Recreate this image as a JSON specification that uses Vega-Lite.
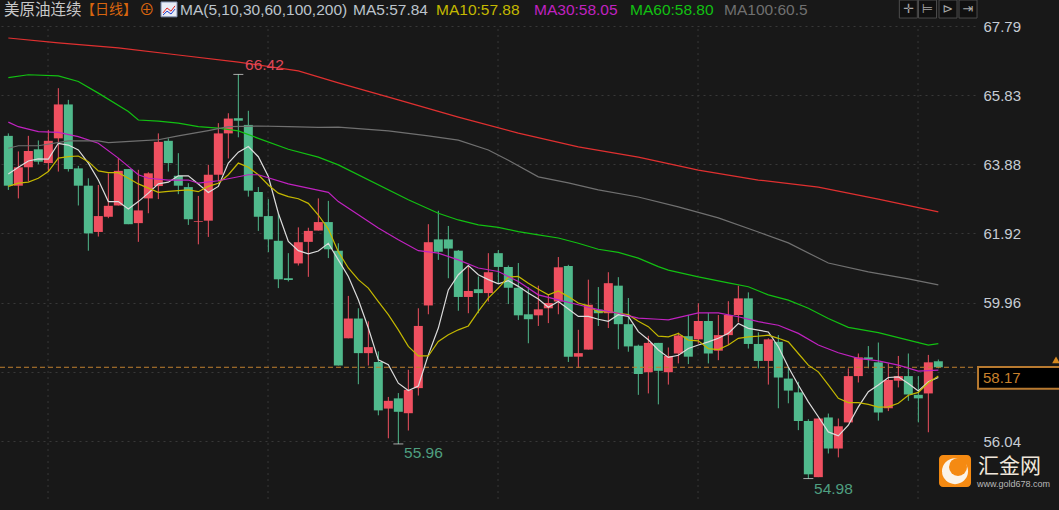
{
  "$schema": "https://vega.github.io/schema/vega-lite/v6.json",
  "description": "美原油连续 daily candlesticks with moving averages",
  "autosize": "none",
  "padding": {"left": 0, "top": 0, "right": 84, "bottom": 0},
  "width": 975,
  "height": 510,
  "background": "#181818",
  "config": {"view": {"stroke": null}},
  "datasets": {
    "candles": [
      {"d":0,"o":64.68,"h":64.75,"l":63.15,"c":63.27},{"d":1,"o":63.27,"h":64.24,"l":62.91,"c":63.79},{"d":2,"o":63.79,"h":64.68,"l":63.39,"c":64.25},{"d":3,"o":64.30,"h":64.55,"l":63.88,"c":63.95},
      {"d":4,"o":63.91,"h":64.85,"l":63.67,"c":64.54},{"d":5,"o":64.61,"h":66.03,"l":63.67,"c":65.57},{"d":6,"o":65.57,"h":65.70,"l":63.67,"c":63.74},{"d":7,"o":63.76,"h":63.83,"l":62.71,"c":63.27},
      {"d":8,"o":63.27,"h":63.48,"l":61.43,"c":61.92},{"d":9,"o":61.96,"h":63.29,"l":61.83,"c":62.41},{"d":10,"o":62.39,"h":63.62,"l":62.35,"c":62.70},{"d":11,"o":62.71,"h":64.05,"l":62.71,"c":63.69},
      {"d":12,"o":63.74,"h":63.74,"l":62.18,"c":62.18},{"d":13,"o":62.21,"h":63.72,"l":61.68,"c":62.57},{"d":14,"o":62.91,"h":63.65,"l":62.49,"c":63.62},{"d":15,"o":63.26,"h":64.75,"l":62.89,"c":64.51},
      {"d":16,"o":64.54,"h":64.61,"l":63.67,"c":63.91},{"d":17,"o":63.55,"h":64.19,"l":63.03,"c":63.27},{"d":18,"o":63.23,"h":63.34,"l":62.16,"c":62.32},{"d":19,"o":62.25,"h":62.98,"l":61.61,"c":62.27},
      {"d":20,"o":62.28,"h":63.86,"l":61.82,"c":63.58},{"d":21,"o":63.58,"h":65.04,"l":63.39,"c":64.75},{"d":22,"o":64.75,"h":65.32,"l":64.04,"c":65.17},{"d":23,"o":65.18,"h":66.42,"l":64.64,"c":65.11},
      {"d":24,"o":64.99,"h":65.39,"l":62.96,"c":63.13},{"d":25,"o":63.09,"h":63.23,"l":61.99,"c":62.39},{"d":26,"o":62.41,"h":62.89,"l":61.39,"c":61.75},{"d":27,"o":61.71,"h":62.49,"l":60.37,"c":60.62},
      {"d":28,"o":60.65,"h":61.36,"l":60.56,"c":60.60},{"d":29,"o":61.07,"h":62.09,"l":61.01,"c":61.67},{"d":30,"o":61.68,"h":62.08,"l":60.69,"c":61.99},{"d":31,"o":62.00,"h":62.91,"l":62.00,"c":62.24},
      {"d":32,"o":62.24,"h":62.84,"l":61.22,"c":61.47},{"d":33,"o":61.43,"h":61.64,"l":58.18,"c":58.18},{"d":34,"o":58.95,"h":60.15,"l":58.95,"c":59.51},{"d":35,"o":59.51,"h":59.80,"l":57.65,"c":58.53},
      {"d":36,"o":58.53,"h":59.43,"l":58.18,"c":58.70},{"d":37,"o":58.28,"h":58.58,"l":56.77,"c":56.91},{"d":38,"o":56.96,"h":57.29,"l":56.12,"c":57.18},{"d":39,"o":57.25,"h":57.40,"l":55.96,"c":56.87},
      {"d":40,"o":56.83,"h":58.06,"l":56.34,"c":57.49},{"d":41,"o":57.54,"h":59.80,"l":57.33,"c":59.30},{"d":42,"o":59.88,"h":62.18,"l":59.63,"c":61.67},{"d":43,"o":61.75,"h":62.56,"l":61.17,"c":61.40},
      {"d":44,"o":61.75,"h":62.13,"l":60.65,"c":61.49},{"d":45,"o":61.43,"h":61.45,"l":59.73,"c":60.12},{"d":46,"o":60.12,"h":61.01,"l":59.66,"c":60.29},{"d":47,"o":60.34,"h":60.70,"l":59.66,"c":60.23},
      {"d":48,"o":60.23,"h":61.36,"l":59.99,"c":60.82},{"d":49,"o":61.36,"h":61.45,"l":60.49,"c":60.97},{"d":50,"o":60.97,"h":61.01,"l":59.92,"c":60.38},{"d":51,"o":60.38,"h":61.08,"l":59.47,"c":59.60},
      {"d":52,"o":59.63,"h":60.40,"l":58.81,"c":59.49},{"d":53,"o":59.60,"h":60.44,"l":59.30,"c":59.77},{"d":54,"o":59.80,"h":60.18,"l":59.38,"c":59.95},{"d":55,"o":59.99,"h":61.25,"l":59.63,"c":60.96},
      {"d":56,"o":61.00,"h":61.03,"l":58.28,"c":58.43},{"d":57,"o":58.43,"h":59.19,"l":58.11,"c":58.53},{"d":58,"o":58.63,"h":60.61,"l":58.63,"c":59.90},{"d":59,"o":59.76,"h":60.40,"l":59.30,"c":59.66},
      {"d":60,"o":59.66,"h":60.82,"l":59.24,"c":60.51},{"d":61,"o":60.44,"h":60.68,"l":58.64,"c":59.35},{"d":62,"o":59.35,"h":60.09,"l":58.57,"c":58.72},{"d":63,"o":58.74,"h":58.77,"l":57.35,"c":57.94},
      {"d":64,"o":57.99,"h":59.02,"l":57.39,"c":58.82},{"d":65,"o":58.82,"h":58.82,"l":57.08,"c":58.03},{"d":66,"o":57.99,"h":58.69,"l":57.64,"c":58.45},{"d":67,"o":58.52,"h":59.11,"l":58.24,"c":59.03},
      {"d":68,"o":59.01,"h":59.61,"l":58.22,"c":58.43},{"d":69,"o":58.92,"h":59.94,"l":58.80,"c":59.44},{"d":70,"o":59.44,"h":59.67,"l":58.24,"c":58.52},{"d":71,"o":58.60,"h":59.61,"l":58.33,"c":59.04},
      {"d":72,"o":59.04,"h":60.00,"l":58.76,"c":59.61},{"d":73,"o":59.61,"h":60.44,"l":59.40,"c":60.08},{"d":74,"o":60.08,"h":60.25,"l":58.66,"c":58.79},{"d":75,"o":58.79,"h":59.12,"l":58.10,"c":58.31},
      {"d":76,"o":58.31,"h":58.95,"l":57.64,"c":58.92},{"d":77,"o":58.85,"h":59.04,"l":56.97,"c":57.84},{"d":78,"o":57.81,"h":58.14,"l":57.11,"c":57.47},{"d":79,"o":57.42,"h":57.72,"l":56.35,"c":56.61},
      {"d":80,"o":56.61,"h":56.66,"l":54.98,"c":55.10},{"d":81,"o":55.02,"h":56.68,"l":55.02,"c":56.68},{"d":82,"o":56.71,"h":56.82,"l":55.69,"c":55.83},{"d":83,"o":55.83,"h":56.68,"l":55.58,"c":56.46},
      {"d":84,"o":56.57,"h":58.10,"l":56.57,"c":57.88},{"d":85,"o":57.88,"h":58.52,"l":57.70,"c":58.41},{"d":86,"o":58.41,"h":58.73,"l":58.10,"c":58.35},{"d":87,"o":58.27,"h":58.83,"l":56.62,"c":56.85},
      {"d":88,"o":56.97,"h":58.24,"l":56.89,"c":57.77},{"d":89,"o":57.75,"h":58.45,"l":57.56,"c":57.88},{"d":90,"o":57.88,"h":58.52,"l":57.18,"c":57.36},{"d":91,"o":57.35,"h":57.88,"l":56.57,"c":57.25},
      {"d":92,"o":57.39,"h":58.48,"l":56.29,"c":58.27},{"d":93,"o":58.30,"h":58.35,"l":58.10,"c":58.13}
    ],
    "ma": [
      {"d":0,"p":63.60,"series":"MA5"},{"d":1,"p":63.79,"series":"MA5"},{"d":2,"p":63.97,"series":"MA5"},{"d":3,"p":64.03,"series":"MA5"},{"d":4,"p":64.02,"series":"MA5"},{"d":5,"p":64.47,"series":"MA5"},{"d":6,"p":64.42,"series":"MA5"},{"d":7,"p":64.28,"series":"MA5"},{"d":8,"p":63.91,"series":"MA5"},{"d":9,"p":63.43,"series":"MA5"},
      {"d":10,"p":62.82,"series":"MA5"},{"d":11,"p":62.82,"series":"MA5"},{"d":12,"p":62.61,"series":"MA5"},{"d":13,"p":62.82,"series":"MA5"},{"d":14,"p":63.06,"series":"MA5"},{"d":15,"p":63.32,"series":"MA5"},{"d":16,"p":63.37,"series":"MA5"},{"d":17,"p":63.55,"series":"MA5"},{"d":18,"p":63.55,"series":"MA5"},{"d":19,"p":63.32,"series":"MA5"},
      {"d":20,"p":63.08,"series":"MA5"},{"d":21,"p":63.25,"series":"MA5"},{"d":22,"p":63.91,"series":"MA5"},{"d":23,"p":64.22,"series":"MA5"},{"d":24,"p":64.38,"series":"MA5"},{"d":25,"p":64.09,"series":"MA5"},{"d":26,"p":63.53,"series":"MA5"},{"d":27,"p":62.49,"series":"MA5"},{"d":28,"p":61.69,"series":"MA5"},{"d":29,"p":61.43,"series":"MA5"},
      {"d":30,"p":61.34,"series":"MA5"},{"d":31,"p":61.42,"series":"MA5"},{"d":32,"p":61.64,"series":"MA5"},{"d":33,"p":61.17,"series":"MA5"},{"d":34,"p":60.70,"series":"MA5"},{"d":35,"p":60.04,"series":"MA5"},{"d":36,"p":59.24,"series":"MA5"},{"d":37,"p":58.34,"series":"MA5"},{"d":38,"p":58.20,"series":"MA5"},{"d":39,"p":57.68,"series":"MA5"},
      {"d":40,"p":57.47,"series":"MA5"},{"d":41,"p":57.60,"series":"MA5"},{"d":42,"p":58.48,"series":"MA5"},{"d":43,"p":59.24,"series":"MA5"},{"d":44,"p":60.32,"series":"MA5"},{"d":45,"p":60.75,"series":"MA5"},{"d":46,"p":61.01,"series":"MA5"},{"d":47,"p":60.75,"series":"MA5"},{"d":48,"p":60.61,"series":"MA5"},{"d":49,"p":60.49,"series":"MA5"},
      {"d":50,"p":60.58,"series":"MA5"},{"d":51,"p":60.42,"series":"MA5"},{"d":52,"p":60.23,"series":"MA5"},{"d":53,"p":60.06,"series":"MA5"},{"d":54,"p":59.83,"series":"MA5"},{"d":55,"p":59.99,"series":"MA5"},{"d":56,"p":59.78,"series":"MA5"},{"d":57,"p":59.57,"series":"MA5"},{"d":58,"p":59.57,"series":"MA5"},{"d":59,"p":59.49,"series":"MA5"},
      {"d":60,"p":59.43,"series":"MA5"},{"d":61,"p":59.62,"series":"MA5"},{"d":62,"p":59.57,"series":"MA5"},{"d":63,"p":59.14,"series":"MA5"},{"d":64,"p":58.91,"series":"MA5"},{"d":65,"p":58.62,"series":"MA5"},{"d":66,"p":58.41,"series":"MA5"},{"d":67,"p":58.47,"series":"MA5"},{"d":68,"p":58.66,"series":"MA5"},{"d":69,"p":58.76,"series":"MA5"},
      {"d":70,"p":58.85,"series":"MA5"},{"d":71,"p":58.95,"series":"MA5"},{"d":72,"p":59.09,"series":"MA5"},{"d":73,"p":59.37,"series":"MA5"},{"d":74,"p":59.23,"series":"MA5"},{"d":75,"p":59.18,"series":"MA5"},{"d":76,"p":59.13,"series":"MA5"},{"d":77,"p":58.71,"series":"MA5"},{"d":78,"p":58.14,"series":"MA5"},{"d":79,"p":57.63,"series":"MA5"},
      {"d":80,"p":57.15,"series":"MA5"},{"d":81,"p":56.73,"series":"MA5"},{"d":82,"p":56.30,"series":"MA5"},{"d":83,"p":56.19,"series":"MA5"},{"d":84,"p":56.49,"series":"MA5"},{"d":85,"p":57.01,"series":"MA5"},{"d":86,"p":57.44,"series":"MA5"},{"d":87,"p":57.63,"series":"MA5"},{"d":88,"p":57.84,"series":"MA5"},{"d":89,"p":57.86,"series":"MA5"},
      {"d":90,"p":57.67,"series":"MA5"},{"d":91,"p":57.46,"series":"MA5"},{"d":92,"p":57.72,"series":"MA5"},{"d":93,"p":57.84,"series":"MA5"},

      {"d":0,"p":63.25,"series":"MA10"},{"d":1,"p":63.34,"series":"MA10"},{"d":2,"p":63.37,"series":"MA10"},{"d":3,"p":63.48,"series":"MA10"},{"d":4,"p":63.67,"series":"MA10"},{"d":5,"p":64.05,"series":"MA10"},{"d":6,"p":64.09,"series":"MA10"},{"d":7,"p":64.11,"series":"MA10"},{"d":8,"p":63.95,"series":"MA10"},{"d":9,"p":63.69,"series":"MA10"},
      {"d":10,"p":63.64,"series":"MA10"},{"d":11,"p":63.64,"series":"MA10"},{"d":12,"p":63.48,"series":"MA10"},{"d":13,"p":63.32,"series":"MA10"},{"d":14,"p":63.20,"series":"MA10"},{"d":15,"p":63.08,"series":"MA10"},{"d":16,"p":63.11,"series":"MA10"},{"d":17,"p":63.13,"series":"MA10"},{"d":18,"p":63.15,"series":"MA10"},{"d":19,"p":63.10,"series":"MA10"},
      {"d":20,"p":63.25,"series":"MA10"},{"d":21,"p":63.34,"series":"MA10"},{"d":22,"p":63.58,"series":"MA10"},{"d":23,"p":63.91,"series":"MA10"},{"d":24,"p":63.79,"series":"MA10"},{"d":25,"p":63.58,"series":"MA10"},{"d":26,"p":63.29,"series":"MA10"},{"d":27,"p":63.06,"series":"MA10"},{"d":28,"p":62.96,"series":"MA10"},{"d":29,"p":62.90,"series":"MA10"},
      {"d":30,"p":62.77,"series":"MA10"},{"d":31,"p":62.44,"series":"MA10"},{"d":32,"p":62.04,"series":"MA10"},{"d":33,"p":61.40,"series":"MA10"},{"d":34,"p":60.94,"series":"MA10"},{"d":35,"p":60.61,"series":"MA10"},{"d":36,"p":60.37,"series":"MA10"},{"d":37,"p":59.99,"series":"MA10"},{"d":38,"p":59.62,"series":"MA10"},{"d":39,"p":59.19,"series":"MA10"},
      {"d":40,"p":58.72,"series":"MA10"},{"d":41,"p":58.45,"series":"MA10"},{"d":42,"p":58.45,"series":"MA10"},{"d":43,"p":58.86,"series":"MA10"},{"d":44,"p":59.05,"series":"MA10"},{"d":45,"p":59.19,"series":"MA10"},{"d":46,"p":59.30,"series":"MA10"},{"d":47,"p":59.71,"series":"MA10"},{"d":48,"p":60.09,"series":"MA10"},{"d":49,"p":60.37,"series":"MA10"},
      {"d":50,"p":60.68,"series":"MA10"},{"d":51,"p":60.70,"series":"MA10"},{"d":52,"p":60.51,"series":"MA10"},{"d":53,"p":60.34,"series":"MA10"},{"d":54,"p":60.18,"series":"MA10"},{"d":55,"p":60.29,"series":"MA10"},{"d":56,"p":60.13,"series":"MA10"},{"d":57,"p":59.95,"series":"MA10"},{"d":58,"p":59.87,"series":"MA10"},{"d":59,"p":59.69,"series":"MA10"},
      {"d":60,"p":59.71,"series":"MA10"},{"d":61,"p":59.66,"series":"MA10"},{"d":62,"p":59.62,"series":"MA10"},{"d":63,"p":59.43,"series":"MA10"},{"d":64,"p":59.28,"series":"MA10"},{"d":65,"p":59.01,"series":"MA10"},{"d":66,"p":58.99,"series":"MA10"},{"d":67,"p":59.09,"series":"MA10"},{"d":68,"p":58.90,"series":"MA10"},{"d":69,"p":58.88,"series":"MA10"},
      {"d":70,"p":58.66,"series":"MA10"},{"d":71,"p":58.63,"series":"MA10"},{"d":72,"p":58.76,"series":"MA10"},{"d":73,"p":58.95,"series":"MA10"},{"d":74,"p":58.99,"series":"MA10"},{"d":75,"p":59.01,"series":"MA10"},{"d":76,"p":59.04,"series":"MA10"},{"d":77,"p":58.95,"series":"MA10"},{"d":78,"p":58.85,"series":"MA10"},{"d":79,"p":58.52,"series":"MA10"},
      {"d":80,"p":58.19,"series":"MA10"},{"d":81,"p":58.00,"series":"MA10"},{"d":82,"p":57.63,"series":"MA10"},{"d":83,"p":57.25,"series":"MA10"},{"d":84,"p":57.13,"series":"MA10"},{"d":85,"p":57.13,"series":"MA10"},{"d":86,"p":57.08,"series":"MA10"},{"d":87,"p":57.00,"series":"MA10"},{"d":88,"p":57.01,"series":"MA10"},{"d":89,"p":57.11,"series":"MA10"},
      {"d":90,"p":57.34,"series":"MA10"},{"d":91,"p":57.42,"series":"MA10"},{"d":92,"p":57.69,"series":"MA10"},{"d":93,"p":57.88,"series":"MA10"},

      {"d":0,"p":65.07,"series":"MA30"},{"d":1,"p":64.94,"series":"MA30"},{"d":3,"p":64.80,"series":"MA30"},{"d":5,"p":64.78,"series":"MA30"},{"d":7,"p":64.66,"series":"MA30"},{"d":9,"p":64.47,"series":"MA30"},{"d":11,"p":64.05,"series":"MA30"},{"d":13,"p":63.58,"series":"MA30"},{"d":14,"p":63.48,"series":"MA30"},{"d":16,"p":63.43,"series":"MA30"},
      {"d":18,"p":63.43,"series":"MA30"},{"d":19,"p":63.34,"series":"MA30"},{"d":21,"p":63.41,"series":"MA30"},{"d":24,"p":63.58,"series":"MA30"},{"d":25,"p":63.58,"series":"MA30"},{"d":28,"p":63.32,"series":"MA30"},{"d":30,"p":63.20,"series":"MA30"},{"d":32,"p":63.08,"series":"MA30"},{"d":33,"p":62.82,"series":"MA30"},{"d":35,"p":62.45,"series":"MA30"},
      {"d":37,"p":62.07,"series":"MA30"},{"d":39,"p":61.74,"series":"MA30"},{"d":41,"p":61.43,"series":"MA30"},{"d":43,"p":61.36,"series":"MA30"},{"d":45,"p":61.17,"series":"MA30"},{"d":47,"p":60.94,"series":"MA30"},{"d":49,"p":60.84,"series":"MA30"},{"d":51,"p":60.56,"series":"MA30"},{"d":53,"p":60.18,"series":"MA30"},{"d":55,"p":60.04,"series":"MA30"},
      {"d":57,"p":59.90,"series":"MA30"},{"d":59,"p":59.76,"series":"MA30"},{"d":61,"p":59.66,"series":"MA30"},{"d":63,"p":59.52,"series":"MA30"},{"d":65,"p":59.49,"series":"MA30"},{"d":66,"p":59.47,"series":"MA30"},{"d":69,"p":59.67,"series":"MA30"},{"d":71,"p":59.67,"series":"MA30"},{"d":73,"p":59.56,"series":"MA30"},{"d":75,"p":59.42,"series":"MA30"},
      {"d":77,"p":59.32,"series":"MA30"},{"d":79,"p":59.09,"series":"MA30"},{"d":81,"p":58.76,"series":"MA30"},{"d":83,"p":58.54,"series":"MA30"},{"d":85,"p":58.38,"series":"MA30"},{"d":87,"p":58.31,"series":"MA30"},{"d":89,"p":58.19,"series":"MA30"},{"d":91,"p":58.02,"series":"MA30"},{"d":93,"p":58.05,"series":"MA30"},

      {"d":0,"p":66.33,"series":"MA60"},{"d":2,"p":66.41,"series":"MA60"},{"d":5,"p":66.38,"series":"MA60"},{"d":7,"p":66.22,"series":"MA60"},{"d":9,"p":65.89,"series":"MA60"},{"d":12,"p":65.37,"series":"MA60"},{"d":13,"p":65.13,"series":"MA60"},{"d":15,"p":65.10,"series":"MA60"},{"d":17,"p":65.04,"series":"MA60"},{"d":19,"p":64.94,"series":"MA60"},
      {"d":21,"p":64.90,"series":"MA60"},{"d":23,"p":64.82,"series":"MA60"},{"d":25,"p":64.61,"series":"MA60"},{"d":28,"p":64.30,"series":"MA60"},{"d":31,"p":64.08,"series":"MA60"},{"d":33,"p":63.86,"series":"MA60"},{"d":40,"p":62.87,"series":"MA60"},{"d":43,"p":62.49,"series":"MA60"},{"d":45,"p":62.30,"series":"MA60"},{"d":47,"p":62.16,"series":"MA60"},
      {"d":49,"p":62.09,"series":"MA60"},{"d":51,"p":61.97,"series":"MA60"},{"d":53,"p":61.88,"series":"MA60"},{"d":55,"p":61.79,"series":"MA60"},{"d":57,"p":61.64,"series":"MA60"},{"d":59,"p":61.47,"series":"MA60"},{"d":61,"p":61.38,"series":"MA60"},{"d":63,"p":61.22,"series":"MA60"},{"d":65,"p":60.98,"series":"MA60"},{"d":66,"p":60.88,"series":"MA60"},
      {"d":69,"p":60.69,"series":"MA60"},{"d":72,"p":60.52,"series":"MA60"},{"d":74,"p":60.41,"series":"MA60"},{"d":76,"p":60.18,"series":"MA60"},{"d":78,"p":60.03,"series":"MA60"},{"d":80,"p":59.80,"series":"MA60"},{"d":82,"p":59.51,"series":"MA60"},{"d":84,"p":59.26,"series":"MA60"},{"d":87,"p":59.11,"series":"MA60"},{"d":90,"p":58.90,"series":"MA60"},
      {"d":92,"p":58.76,"series":"MA60"},{"d":93,"p":58.80,"series":"MA60"},

      {"d":0,"p":64.33,"series":"MA100"},{"d":1,"p":64.40,"series":"MA100"},{"d":3,"p":64.40,"series":"MA100"},{"d":6,"p":64.54,"series":"MA100"},{"d":9,"p":64.54,"series":"MA100"},{"d":10,"p":64.49,"series":"MA100"},{"d":13,"p":64.54,"series":"MA100"},{"d":15,"p":64.57,"series":"MA100"},{"d":17,"p":64.68,"series":"MA100"},{"d":20,"p":64.83,"series":"MA100"},
      {"d":22,"p":64.94,"series":"MA100"},{"d":25,"p":64.96,"series":"MA100"},{"d":28,"p":64.94,"series":"MA100"},{"d":31,"p":64.92,"series":"MA100"},{"d":33,"p":64.93,"series":"MA100"},{"d":38,"p":64.82,"series":"MA100"},{"d":42,"p":64.68,"series":"MA100"},{"d":45,"p":64.56,"series":"MA100"},{"d":48,"p":64.28,"series":"MA100"},{"d":50,"p":63.99,"series":"MA100"},
      {"d":53,"p":63.52,"series":"MA100"},{"d":56,"p":63.35,"series":"MA100"},{"d":59,"p":63.15,"series":"MA100"},{"d":63,"p":62.95,"series":"MA100"},{"d":67,"p":62.67,"series":"MA100"},{"d":71,"p":62.36,"series":"MA100"},{"d":75,"p":61.96,"series":"MA100"},{"d":78,"p":61.65,"series":"MA100"},{"d":82,"p":61.08,"series":"MA100"},{"d":86,"p":60.83,"series":"MA100"},
      {"d":90,"p":60.63,"series":"MA100"},{"d":93,"p":60.46,"series":"MA100"},

      {"d":0,"p":67.45,"series":"MA200"},{"d":5,"p":67.31,"series":"MA200"},{"d":11,"p":67.17,"series":"MA200"},{"d":17,"p":66.97,"series":"MA200"},{"d":23,"p":66.77,"series":"MA200"},{"d":29,"p":66.52,"series":"MA200"},{"d":33,"p":66.18,"series":"MA200"},{"d":39,"p":65.70,"series":"MA200"},{"d":45,"p":65.21,"series":"MA200"},{"d":51,"p":64.76,"series":"MA200"},
      {"d":57,"p":64.37,"series":"MA200"},{"d":63,"p":64.08,"series":"MA200"},{"d":69,"p":63.71,"series":"MA200"},{"d":75,"p":63.43,"series":"MA200"},{"d":81,"p":63.23,"series":"MA200"},{"d":87,"p":62.89,"series":"MA200"},{"d":93,"p":62.53,"series":"MA200"}
    ]
  },
  "encoding": {
    "x": {"field": "d", "type": "quantitative", "scale": {"domain": [-0.833, 96.667], "nice": false, "zero": false, "padding": 0}, "axis": null},
    "y": {
      "field": "p", "type": "quantitative",
      "scale": {"domain": [54.09, 68.526], "nice": false, "zero": false},
      "axis": {
        "orient": "right", "title": null, "values": [67.79, 65.83, 63.88, 61.92, 59.96, 58.0, 56.04], "format": ".2f",
        "domain": false, "ticks": false, "labelPadding": 8, "labelFont": "Liberation Sans", "labelFontSize": 15, "labelColor": "#c6ccd4",
        "grid": true, "gridColor": "#383838", "gridDash": [2, 4], "gridWidth": 1, "zindex": 0
      }
    },
    "color": {
      "field": "series", "type": "nominal", "legend": null,
      "scale": {
        "domain": ["MA5", "MA10", "MA30", "MA60", "MA100", "MA200", "name", "period", "params", "high", "low", "iconA", "iconB"],
        "range": ["#dcdcdc", "#c4b800", "#c022c0", "#12c012", "#707070", "#e03030", "#c8c8c8", "#d8650f", "#bcc4cc", "#e04858", "#4f9f80", "#e02020", "#2040d0"]
      }
    }
  },
  "layer": [
    {
      "data": {"values": [{"d": 3.97, "p": 54.4, "p2": 67.79}, {"d": 25.97, "p": 54.4, "p2": 67.79}, {"d": 48.97, "p": 54.4, "p2": 67.79}, {"d": 68.97, "p": 54.4, "p2": 67.79}, {"d": 90.97, "p": 54.4, "p2": 67.79}]},
      "mark": {"type": "rule", "strokeDash": [2, 4], "strokeWidth": 1},
      "encoding": {"y2": {"field": "p2"}, "color": {"value": "#383838"}}
    },
    {
      "data": {"name": "candles"},
      "mark": {"type": "rule", "strokeWidth": 1},
      "encoding": {
        "y": {
          "field": "l", "type": "quantitative",
          "scale": {"domain": [54.09, 68.526], "nice": false, "zero": false},
          "axis": {
            "orient": "right", "title": null, "values": [67.79, 65.83, 63.88, 61.92, 59.96, 58.0, 56.04], "format": ".2f",
            "domain": false, "ticks": false, "labelPadding": 8, "labelFont": "Liberation Sans", "labelFontSize": 15, "labelColor": "#c6ccd4",
            "grid": true, "gridColor": "#383838", "gridDash": [2, 4], "gridWidth": 1, "zindex": 0
          }
        },
        "y2": {"field": "h"},
        "color": {"condition": {"test": "datum.c >= datum.o", "value": "#ef5060"}, "value": "#50b98c"}
      }
    },
    {
      "data": {"name": "candles"},
      "mark": {"type": "bar", "orient": "vertical", "size": 9},
      "encoding": {
        "y": {
          "field": "o", "type": "quantitative",
          "scale": {"domain": [54.09, 68.526], "nice": false, "zero": false},
          "axis": {
            "orient": "right", "title": null, "values": [67.79, 65.83, 63.88, 61.92, 59.96, 58.0, 56.04], "format": ".2f",
            "domain": false, "ticks": false, "labelPadding": 8, "labelFont": "Liberation Sans", "labelFontSize": 15, "labelColor": "#c6ccd4",
            "grid": true, "gridColor": "#383838", "gridDash": [2, 4], "gridWidth": 1, "zindex": 0
          }
        },
        "y2": {"field": "c"},
        "color": {"condition": {"test": "datum.c >= datum.o", "value": "#ef5060"}, "value": "#50b98c"}
      }
    },
    {
      "data": {"values": [{"d": -0.833, "d2": 96.667, "p": 58.13}]},
      "mark": {"type": "rule", "strokeDash": [5, 3], "strokeWidth": 1},
      "encoding": {"x2": {"field": "d2"}, "color": {"value": "#c08030"}}
    },
    {
      "data": {"name": "ma"},
      "mark": {"type": "line", "strokeWidth": 1.2, "interpolate": "linear"}
    },
    {
      "data": {"values": [{"d": 23, "p": 66.42}, {"d": 39, "p": 55.96}, {"d": 80, "p": 54.98}]},
      "mark": {"type": "tick", "orient": "horizontal", "size": 10, "thickness": 1},
      "encoding": {"color": {"value": "#e8e8e8"}}
    },
    {
      "data": {"values": [
        {"d": 23.67, "p": 66.69, "label": "66.42", "series": "high"},
        {"d": 39.57, "p": 55.70, "label": "55.96", "series": "low"},
        {"d": 80.57, "p": 54.68, "label": "54.98", "series": "low"},
        {"d": -0.43, "p": 68.243, "label": "美原油连续", "series": "name"},
        {"d": 13.07, "p": 68.243, "label": "⊕", "series": "period"},
        {"d": 17.17, "p": 68.243, "label": "MA(5,10,30,60,100,200)", "series": "params"},
        {"d": 34.47, "p": 68.243, "label": "MA5:57.84", "series": "params"},
        {"d": 42.77, "p": 68.243, "label": "MA10:57.88", "series": "MA10"},
        {"d": 52.57, "p": 68.243, "label": "MA30:58.05", "series": "MA30"},
        {"d": 62.17, "p": 68.243, "label": "MA60:58.80", "series": "MA60"},
        {"d": 71.57, "p": 68.243, "label": "MA100:60.5", "series": "MA100"}
      ]},
      "mark": {"type": "text", "align": "left", "baseline": "middle", "font": "Liberation Sans, Noto Sans CJK SC", "fontSize": 15.5},
      "encoding": {"text": {"field": "label"}}
    },
    {
      "data": {"values": [{"d": 7.27, "p": 68.243, "label": "【日线】", "series": "period"}]},
      "mark": {"type": "text", "align": "left", "baseline": "middle", "font": "Noto Sans CJK SC", "fontSize": 14},
      "encoding": {"text": {"field": "label"}}
    },
    {
      "data": {"values": [{"d": 15.27, "d2": 16.87, "p": 68.05, "p2": 68.47}]},
      "mark": {"type": "rect", "stroke": "#8090b0", "strokeWidth": 1},
      "encoding": {"x2": {"field": "d2"}, "y2": {"field": "p2"}, "color": {"value": "#e8ecf6"}}
    },
    {
      "data": {"values": [
        {"d": 15.47, "p": 68.16, "series": "iconA"}, {"d": 15.87, "p": 68.30, "series": "iconA"}, {"d": 16.27, "p": 68.21, "series": "iconA"}, {"d": 16.67, "p": 68.36, "series": "iconA"},
        {"d": 15.47, "p": 68.10, "series": "iconB"}, {"d": 15.87, "p": 68.21, "series": "iconB"}, {"d": 16.27, "p": 68.13, "series": "iconB"}, {"d": 16.67, "p": 68.27, "series": "iconB"}
      ]},
      "mark": {"type": "line", "strokeWidth": 1}
    },
    {
      "data": {"values": [{"d": 90.0, "p": 68.27}, {"d": 91.92, "p": 68.27}, {"d": 93.97, "p": 68.27}, {"d": 95.97, "p": 68.27}]},
      "mark": {"type": "point", "shape": "square", "size": 324, "filled": true, "opacity": 1, "strokeWidth": 1},
      "encoding": {"color": {"value": "#101010"}, "stroke": {"value": "#4c4c4c"}}
    },
    {
      "data": {"values": [{"d": 90.0, "p": 68.27, "label": "✛"}, {"d": 91.92, "p": 68.27, "label": "⊨"}, {"d": 93.97, "p": 68.27, "label": "⊳"}, {"d": 95.97, "p": 68.27, "label": "⇥"}]},
      "mark": {"type": "text", "align": "center", "baseline": "middle", "font": "DejaVu Sans", "fontSize": 13},
      "encoding": {"text": {"field": "label"}, "color": {"value": "#a8a8a8"}}
    },
    {
      "data": {"values": [{"d": 96.97, "d2": 105.4, "p": 58.14, "p2": 57.52}]},
      "mark": {"type": "rect", "stroke": "#b87a30", "strokeWidth": 2},
      "encoding": {"x2": {"field": "d2"}, "y2": {"field": "p2"}, "color": {"value": "#000000"}}
    },
    {
      "data": {"values": [{"d": 97.47, "p": 57.83, "label": "58.17"}]},
      "mark": {"type": "text", "align": "left", "baseline": "middle", "font": "Liberation Sans", "fontSize": 15},
      "encoding": {"text": {"field": "label"}, "color": {"value": "#c8802c"}}
    },
    {
      "data": {"values": [{"d": 104.77, "p": 58.34}]},
      "mark": {"type": "point", "shape": "triangle-up", "size": 60, "filled": true, "opacity": 1},
      "encoding": {"color": {"value": "#d88a20"}}
    },
    {
      "data": {"values": [{"d": 93.07, "d2": 96.27, "p": 54.74, "p2": 55.65}]},
      "mark": {"type": "rect", "cornerRadius": 4},
      "encoding": {"x2": {"field": "d2"}, "y2": {"field": "p2"}, "color": {"value": "#f58a12"}}
    },
    {
      "data": {"values": [{"d": 94.67, "p": 55.19}]},
      "mark": {"type": "circle", "size": 676, "opacity": 1},
      "encoding": {"color": {"value": "#fbf3e8"}}
    },
    {
      "data": {"values": [{"d": 94.97, "p": 55.31}]},
      "mark": {"type": "circle", "size": 324, "opacity": 1},
      "encoding": {"color": {"value": "#f58a12"}}
    },
    {
      "data": {"values": [{"d": 96.97, "p": 55.31, "label": "汇金网"}]},
      "mark": {"type": "text", "align": "left", "baseline": "middle", "font": "Noto Sans CJK SC", "fontSize": 21},
      "encoding": {"text": {"field": "label"}, "color": {"value": "#efe6da"}}
    },
    {
      "data": {"values": [{"d": 96.87, "p": 54.83, "label": "www.gold678.com"}]},
      "mark": {"type": "text", "align": "left", "baseline": "middle", "font": "Liberation Sans", "fontSize": 9},
      "encoding": {"text": {"field": "label"}, "color": {"value": "#b8b8b8"}}
    }
  ]
}
